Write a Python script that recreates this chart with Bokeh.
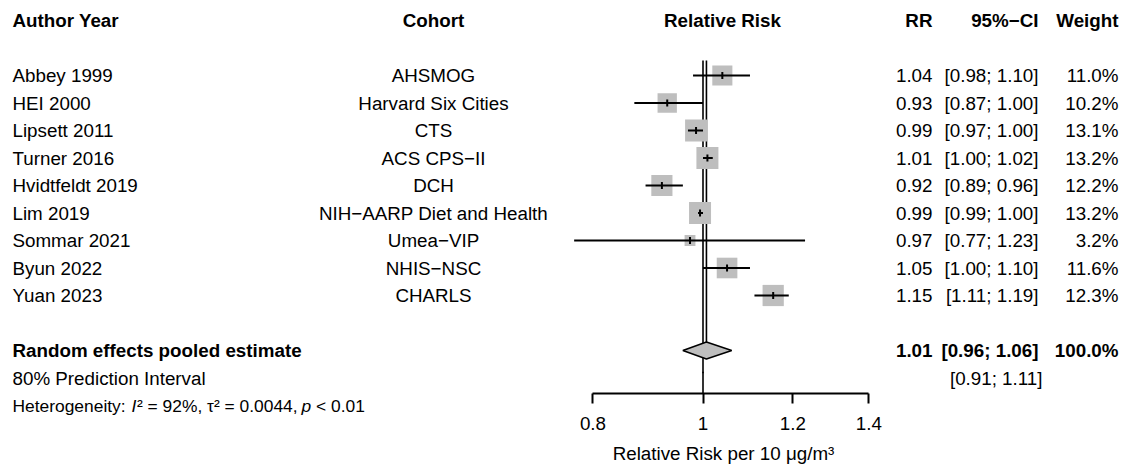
import math
from bokeh.plotting import figure
from bokeh.models import (ColumnDataSource, LabelSet, Label, Range1d, FixedTicker,
                          NumeralTickFormatter)
from bokeh.core.properties import value
from bokeh.embed import file_html
from bokeh.resources import INLINE

# ---------------- data ----------------
authors = ["Abbey 1999", "HEI 2000", "Lipsett 2011", "Turner 2016", "Hvidtfeldt 2019",
           "Lim 2019", "Sommar 2021", "Byun 2022", "Yuan 2023"]
cohorts = ["AHSMOG", "Harvard Six Cities", "CTS", "ACS CPS\u2212II", "DCH",
           "NIH\u2212AARP Diet and Health", "Umea\u2212VIP", "NHIS\u2212NSC", "CHARLS"]
rr = [1.040, 0.930, 0.986, 1.009, 0.920, 0.994, 0.974, 1.050, 1.153]
ci_low = [0.98, 0.87, 0.97, 1.00, 0.89, 0.99, 0.77, 1.00, 1.11]
ci_high = [1.10, 1.00, 1.00, 1.02, 0.96, 1.00, 1.23, 1.10, 1.19]
weights = [11.0, 10.2, 13.1, 13.2, 12.2, 13.2, 3.2, 11.6, 12.3]

pooled_rr = 1.007
pooled_low = 0.96
pooled_high = 1.06
pi_low = 0.91
pi_high = 1.11
pooled_label = "Random effects pooled estimate"
pi_label = "80% Prediction Interval"

headers = ["Author Year", "Cohort", "Relative Risk", "RR", "95%\u2212CI", "Weight"]
x_ticks = [0.8, 1.0, 1.2, 1.4]
x_title = "Relative Risk per 10 \u03bcg/m\u00b3"

# ---------------- layout constants ----------------
W, H = 1125, 470
PX_PER_LN = 493.0
X_ONE = 702.5            # pixel of RR = 1
ROW0 = 20.0              # pixel of header row
ROW_H = 27.5
AXIS_PX = 393.0
FONT = "Liberation Sans"
FS = "18.8px"
FS_SMALL = "17.4px"

x_lo = math.exp(-X_ONE / PX_PER_LN)
x_hi = math.exp((W - X_ONE) / PX_PER_LN)
y_top = -ROW0 / ROW_H
y_bot = (H - ROW0) / ROW_H
axis_row = (AXIS_PX - ROW0) / ROW_H

study_rows = [2 + i for i in range(len(authors))]
pooled_row = study_rows[-1] + 2
pi_row = pooled_row + 1
het_row = pooled_row + 2

wmax = max(weights)
src = ColumnDataSource(dict(
    row=study_rows,
    author=authors,
    cohort=cohorts,
    rr=rr,
    lo=ci_low,
    hi=ci_high,
    size=[22.0 * math.sqrt(w / wmax) for w in weights],
    rr_txt=[f"{v:.2f}" for v in rr],
    ci_txt=[f"[{a:.2f}; {b:.2f}]" for a, b in zip(ci_low, ci_high)],
    w_txt=[f"{w:.1f}%" for w in weights],
))

p = figure(width=W, height=H, x_axis_type="log",
           x_range=Range1d(x_lo, x_hi), y_range=Range1d(y_bot, y_top),
           y_axis_location=None, toolbar_location=None, output_backend="svg",
           min_border=0)
p.grid.visible = False
p.outline_line_color = None
p.background_fill_color = "white"
p.border_fill_color = "white"

# reference line (RR = 1) and pooled estimate line
line_top = 1.45
p.segment(x0=[1.0, 1.0], y0=[line_top, pi_row - 0.23], x1=[1.0, 1.0],
          y1=[pooled_row + 0.83, axis_row], line_color="black", line_width=1.6)
p.segment(x0=[pooled_rr], y0=[line_top], x1=[pooled_rr], y1=[pooled_row - 0.31],
          line_color="black", line_width=1.6)

# study boxes, CIs and point marks
p.scatter(x="rr", y="row", size="size", marker="square", fill_color="#BEBEBE",
          line_color=None, source=src)
p.segment(x0="lo", y0="row", x1="hi", y1="row", line_color="black", line_width=2,
          source=src)
p.scatter(x="rr", y="row", marker="dash", angle=math.pi / 2, size=7,
          line_color="black", line_width=2, source=src)

# pooled diamond
dh = 0.31
p.patch(x=[pooled_low, pooled_rr, pooled_high, pooled_rr],
        y=[pooled_row, pooled_row - dh, pooled_row, pooled_row + dh],
        fill_color="#BEBEBE", line_color="black", line_width=1.5)

# axis (drawn inside the frame at a fixed row)
ax = p.xaxis[0]
ax.fixed_location = axis_row
ax.ticker = FixedTicker(ticks=x_ticks, minor_ticks=[])
ax.bounds = (min(x_ticks), max(x_ticks))
ax.formatter = NumeralTickFormatter(format="0.[0]")
ax.major_label_text_font = FONT
ax.major_label_text_font_size = FS
ax.major_label_text_color = "black"
ax.major_label_standoff = 13
ax.major_tick_in = 0
ax.major_tick_out = 10
ax.major_tick_line_width = 2
ax.major_tick_line_color = "black"
ax.minor_tick_line_color = None
ax.axis_line_width = 2
ax.axis_line_color = "black"


def col(field, x, align, bold=False):
    p.add_layout(LabelSet(x=x, y="row", text=field, x_units="screen", source=src,
                          text_font=value(FONT), text_font_size=value(FS),
                          text_color="black", text_align=align,
                          text_baseline="middle",
                          text_font_style="bold" if bold else "normal"))


col("author", 12, "left")
col("cohort", 433, "center")
col("rr_txt", 932, "right")
col("ci_txt", 1038, "right")
col("w_txt", 1118, "right")


def lab(text, x, row, align, bold=False, italic=False, size=FS):
    style = "bold" if bold else ("italic" if italic else "normal")
    p.add_layout(Label(x=x, y=row, x_units="screen", text=text, text_font=FONT,
                       text_font_size=size, text_color="black", text_align=align,
                       text_baseline="middle", text_font_style=style))


# headers
hx = [(12, "left"), (433, "center"), (722, "center"), (932, "right"),
      (1038, "right"), (1118, "right")]
for t, (x, a) in zip(headers, hx):
    lab(t, x, 0, a, bold=True)

# pooled rows
lab(pooled_label, 12, pooled_row, "left", bold=True)
lab(f"{pooled_rr:.2f}", 932, pooled_row, "right", bold=True)
lab(f"[{pooled_low:.2f}; {pooled_high:.2f}]", 1038, pooled_row, "right", bold=True)
lab(f"{sum(weights):.1f}%", 1118, pooled_row, "right", bold=True)
lab(pi_label, 12, pi_row, "left")
lab(f"[{pi_low:.2f}; {pi_high:.2f}]", 1042, pi_row, "right")

# heterogeneity
lab("Heterogeneity:", 12, het_row, "left", size=FS_SMALL)
lab("I", 131, het_row, "left", italic=True, size=FS_SMALL)
lab("\u00b2 = 92%, \u03c4\u00b2 = 0.0044,", 136.5, het_row, "left", size=FS_SMALL)
lab("p", 301, het_row, "left", italic=True, size=FS_SMALL)
lab("< 0.01", 315.5, het_row, "left", size=FS_SMALL)

# axis title
lab(x_title, 723, (453 - ROW0) / ROW_H, "center")

open("out.html", "w").write(file_html(p, INLINE))
